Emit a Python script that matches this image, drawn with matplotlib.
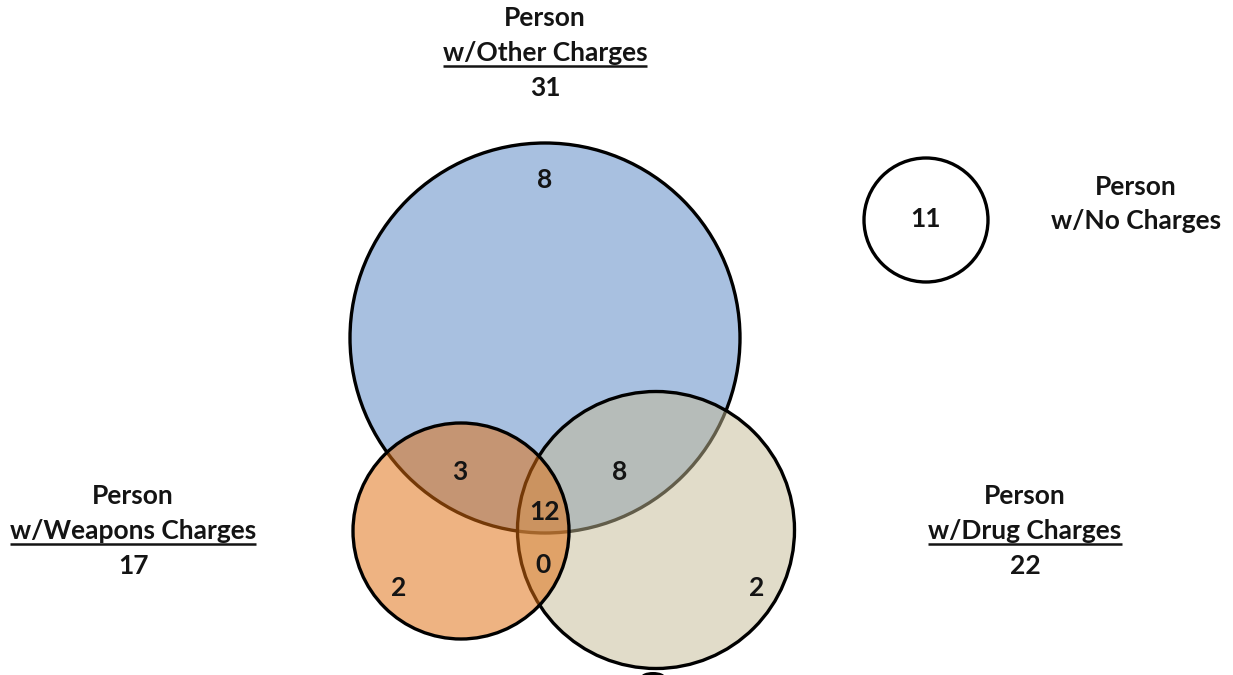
import matplotlib
matplotlib.use("Agg")
import matplotlib.pyplot as plt
from matplotlib.patches import Circle, Ellipse

plt.rcParams['font.family'] = ['Lato', 'DejaVu Sans']

# ---- data ----
set_names = ["Other Charges", "Weapons Charges", "Drug Charges", "No Charges"]
set_totals = [31, 17, 22, 11]
region_labels = ["Other only", "Weapons only", "Drug only", "Other & Weapons",
                 "Other & Drug", "All three", "Weapons & Drug", "No charges"]
region_counts = [8, 2, 2, 3, 8, 12, 0, 11]

# ---- layout (pixel coords, y down) ----
W, H = 1233, 675
fig = plt.figure(figsize=(W / 100, H / 100), dpi=100)
ax = fig.add_axes([0, 0, 1, 1])
ax.set_xlim(0, W)
ax.set_ylim(H, 0)
ax.set_aspect('equal')
ax.axis('off')

lw = 2.4
# blue (Other)
ax.add_patch(Circle((545, 338), 195, facecolor='#a8c0e0', edgecolor='black', lw=lw, zorder=1))
# beige (Drug)
ax.add_patch(Circle((656, 530), 138.5, facecolor=(0.77, 0.73, 0.58, 0.5), edgecolor='black', lw=lw, zorder=2))
# orange (Weapons)
ax.add_patch(Circle((461, 531), 108, facecolor=(0.88, 0.43, 0.06, 0.52), edgecolor='black', lw=lw, zorder=3))
# no charges
ax.add_patch(Circle((926, 220), 62, facecolor='white', edgecolor='black', lw=lw, zorder=1))
# small black artifact at bottom
ax.add_patch(Ellipse((653, 677), 24, 10, facecolor='black', edgecolor='none', zorder=4))

fs = 19
tkw = dict(ha='center', va='center', fontsize=fs, fontweight='bold', color='#141414', zorder=5)

# region numbers
region_pos = [(545, 180), (399, 588), (757, 588), (460, 472),
              (620, 472), (545, 512), (543, 565), (926, 219)]
for (x, y), v in zip(region_pos, region_counts):
    ax.text(x, y, str(v), **tkw)

# set labels
label_pos = [(545, 18), (133, 496), (1025, 496)]
underlined = []
for (x, y), name, tot in zip(label_pos, set_names[:3], set_totals[:3]):
    ax.text(x, y, "Person", **tkw)
    t = ax.text(x, y + 35, "w/" + name, **tkw)
    underlined.append((t, y + 35 + 13))
    ax.text(x, y + 70, str(tot), **tkw)

ax.text(1136, 187, "Person", **tkw)
ax.text(1136, 221, "w/" + set_names[3], **tkw)

fig.canvas.draw()
r = fig.canvas.get_renderer()
inv = ax.transData.inverted()
for t, uy in underlined:
    bb = t.get_window_extent(renderer=r)
    x0 = inv.transform((bb.x0, 0))[0]
    x1 = inv.transform((bb.x1, 0))[0]
    ax.plot([x0, x1], [uy, uy], color='#141414', lw=1.8, zorder=5, solid_capstyle='butt')

fig.savefig("out.png", dpi=100)
